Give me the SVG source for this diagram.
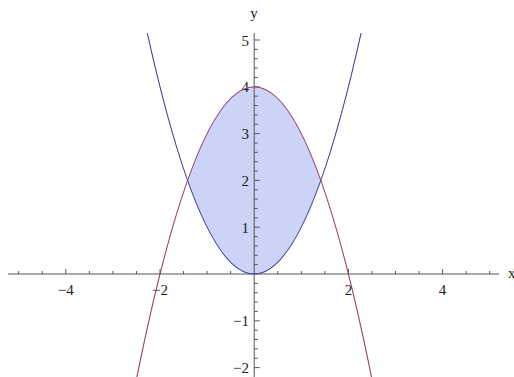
<svg xmlns="http://www.w3.org/2000/svg" width="514" height="377" viewBox="0 0 514 377">
<style>
.ax{stroke:#555;stroke-width:1;fill:none}
.tk{stroke:#555;stroke-width:1;fill:none}
.lb{font-family:"Liberation Serif","Times New Roman",serif;font-size:15px;fill:#222}
.c1{stroke:#3d3d99;stroke-width:1.1;fill:none}
.c2{stroke:#993d70;stroke-width:1.1;fill:none}
</style>
<rect width="514" height="377" fill="#fff"/>
<g id="fill-region">
<path d="M187.6,180.4 Q254.2,-6.8 320.8,180.4 Q254.2,367.6 187.6,180.4 Z" fill="#cbd3f6"/>
</g>
<g id="axes">
<path class="ax" d="M8,274 H499 M254.2,33 V377"/>
<path class="tk" d="M18.7,274v-3 M42.25,274v-3 M65.8,274v-5 M89.35,274v-3 M112.9,274v-3 M136.45,274v-3 M160,274v-5 M183.55,274v-3 M207.1,274v-3 M230.65,274v-3 M277.75,274v-3 M301.3,274v-3 M324.85,274v-3 M348.4,274v-5 M371.95,274v-3 M395.5,274v-3 M419.05,274v-3 M442.6,274v-5 M466.15,274v-3 M489.7,274v-3"/>
<path class="tk" d="M254.2,40h5.5 M254.2,86.8h5.5 M254.2,133.6h5.5 M254.2,180.4h5.5 M254.2,227.2h5.5 M254.2,320.8h5.5 M254.2,367.6h5.5 M254.2,49.36h3.5 M254.2,58.72h3.5 M254.2,68.08h3.5 M254.2,77.44h3.5 M254.2,96.16h3.5 M254.2,105.52h3.5 M254.2,114.88h3.5 M254.2,124.24h3.5 M254.2,142.96h3.5 M254.2,152.32h3.5 M254.2,161.68h3.5 M254.2,171.04h3.5 M254.2,189.76h3.5 M254.2,199.12h3.5 M254.2,208.48h3.5 M254.2,217.84h3.5 M254.2,236.56h3.5 M254.2,245.92h3.5 M254.2,255.28h3.5 M254.2,264.64h3.5 M254.2,283.36h3.5 M254.2,292.72h3.5 M254.2,302.08h3.5 M254.2,311.44h3.5 M254.2,330.16h3.5 M254.2,339.52h3.5 M254.2,348.88h3.5 M254.2,358.24h3.5"/>
<g class="lb" text-anchor="middle">
<text x="65.8" y="295">−4</text>
<text x="160" y="295">−2</text>
<text x="348.4" y="295">2</text>
<text x="442.6" y="295">4</text>
</g>
<g class="lb" text-anchor="end">
<text x="249" y="45.5">5</text>
<text x="249" y="92.3">4</text>
<text x="249" y="139.1">3</text>
<text x="249" y="185.9">2</text>
<text x="249" y="232.7">1</text>
<text x="249" y="326.3">−1</text>
<text x="249" y="373.1">−2</text>
</g>
<text class="lb" x="254" y="18" text-anchor="middle">y</text>
<text class="lb" x="508" y="278">x</text>
</g>
<g id="curves">
<path id="blue-parabola" class="c1" d="M147.3,33 Q254.2,515 361.1,33"/>
<path id="purple-parabola" class="c2" d="M134.1,391.1 Q254.2,-217.5 374.3,391.1"/>
</g>
</svg>
